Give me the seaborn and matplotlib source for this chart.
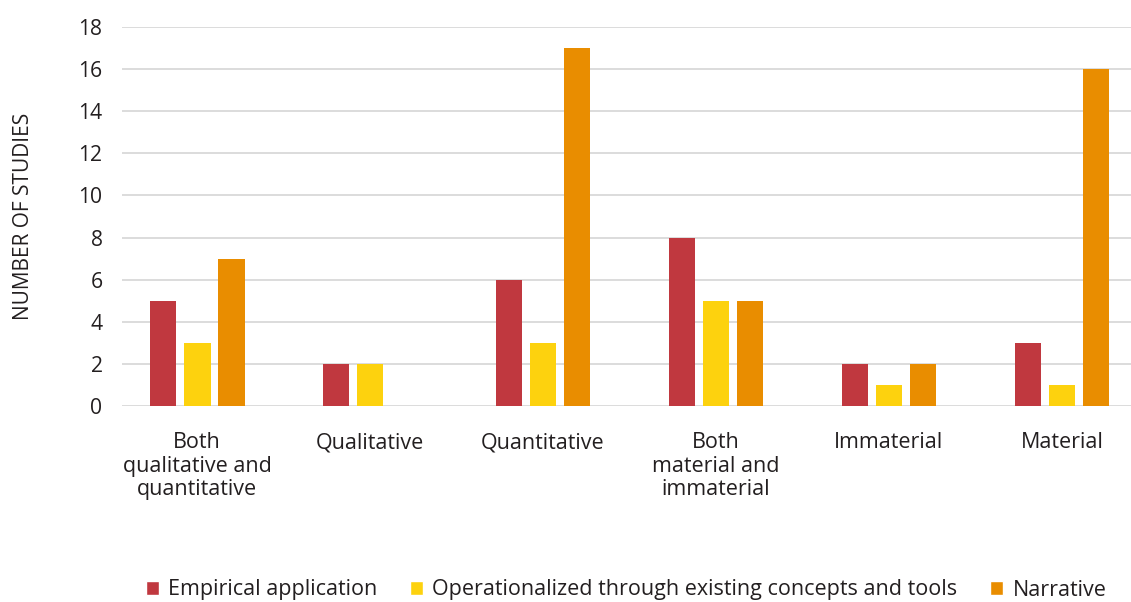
import matplotlib
matplotlib.use("Agg")
import matplotlib.pyplot as plt
import seaborn as sns
import pandas as pd

categories = [
    "Both\nqualitative and\nquantitative",
    "Qualitative",
    "Quantitative",
    "Both\nmaterial and\nimmaterial",
    "Immaterial",
    "Material",
]
series_names = [
    "Empirical application",
    "Operationalized through existing concepts and tools",
    "Narrative",
]
empirical = [5, 2, 6, 8, 2, 3]
operationalized = [3, 2, 3, 5, 1, 1]
narrative = [7, 0, 17, 5, 2, 16]
y_ticks = [0, 2, 4, 6, 8, 10, 12, 14, 16, 18]

colors = ["#C0383F", "#FDD20E", "#E98D00"]

rows = []
for name, vals in zip(series_names, [empirical, operationalized, narrative]):
    for cat, v in zip(categories, vals):
        rows.append({"category": cat, "series": name, "value": v})
df = pd.DataFrame(rows)

sns.set_style("white")
plt.rcParams["font.family"] = ["Open Sans", "DejaVu Sans"]

fig = plt.figure(figsize=(11.31, 6.02), dpi=100)
ax = fig.add_axes([122 / 1131, 1 - 406 / 602, 1 - 122 / 1131, (406 - 27) / 602])

sns.barplot(data=df, x="category", y="value", hue="series",
            palette=colors, width=0.59, ax=ax, legend=True,
            order=categories, hue_order=series_names, saturation=1)

# narrow each bar about its center to leave small gaps between series
shrink = 0.79
for p in ax.patches:
    w = p.get_width()
    if w == 0:
        continue
    p.set_x(p.get_x() + w * (1 - shrink) / 2)
    p.set_width(w * shrink)
    p.set_linewidth(0)

ax.set_ylim(0, 18)
ax.set_yticks(y_ticks)
ax.set_xlim(-0.434, 5.399)
ax.yaxis.grid(True, color="#D9D9D9", linewidth=1.3)
ax.set_axisbelow(True)
for s in ax.spines.values():
    s.set_visible(False)
ax.tick_params(axis="both", length=0, colors="#231F20")
ax.tick_params(axis="y", pad=14, labelsize=15.2)
ax.tick_params(axis="x", pad=19, labelsize=15.5)
for lbl in ax.get_xticklabels():
    lbl.set_linespacing(1.15)
    lbl.set_verticalalignment("top")
ax.set_xlabel("")
ax.set_ylabel("NUMBER OF STUDIES", fontsize=15, color="#231F20", labelpad=32)

leg = ax.legend(loc="center", bbox_to_anchor=(626 / 1131, (602 - 590) / 602),
                bbox_transform=fig.transFigure, ncol=3, frameon=False,
                fontsize=15.5, handlelength=0.6, handleheight=0.6,
                columnspacing=1.5, handletextpad=0.45)
for t in leg.get_texts():
    t.set_color("#231F20")

fig.savefig("out.png", dpi=100)
